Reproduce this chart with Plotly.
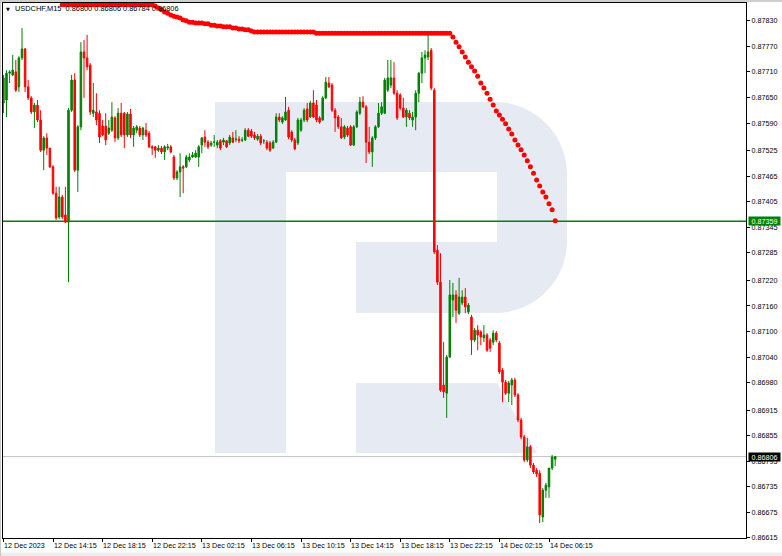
import plotly.graph_objects as go
import pandas as pd

# ---------------- data ----------------
symbol = "USDCHF,M15"
bar_times = pd.date_range("2023-12-12 10:15", periods=179, freq="15min")

opens = [
    0.87637, 0.87644, 0.87707, 0.87703, 0.87710, 0.87675, 0.87743, 0.87764, 0.87675, 0.87649,
    0.87616, 0.87632, 0.87597, 0.87526, 0.87555, 0.87531, 0.87487, 0.87425, 0.87369, 0.87416,
    0.87374, 0.87357, 0.87620, 0.87691, 0.87479, 0.87581, 0.87757, 0.87743, 0.87726, 0.87613,
    0.87616, 0.87613, 0.87583, 0.87583, 0.87566, 0.87573, 0.87602, 0.87555, 0.87613, 0.87613,
    0.87562, 0.87611, 0.87562, 0.87573, 0.87578, 0.87562, 0.87573, 0.87566, 0.87534, 0.87534,
    0.87526, 0.87531, 0.87522, 0.87531, 0.87534, 0.87510, 0.87461, 0.87475, 0.87487, 0.87487,
    0.87503, 0.87510, 0.87510, 0.87510, 0.87538, 0.87557, 0.87545, 0.87538, 0.87545, 0.87538,
    0.87548, 0.87545, 0.87548, 0.87543, 0.87555, 0.87552, 0.87552, 0.87550, 0.87550, 0.87573,
    0.87571, 0.87562, 0.87552, 0.87559, 0.87548, 0.87545, 0.87543, 0.87531, 0.87545, 0.87604,
    0.87592, 0.87597, 0.87620, 0.87569, 0.87550, 0.87543, 0.87573, 0.87597, 0.87623, 0.87604,
    0.87637, 0.87632, 0.87602, 0.87597, 0.87649, 0.87684, 0.87679, 0.87620, 0.87604, 0.87581,
    0.87557, 0.87578, 0.87581, 0.87538, 0.87581, 0.87613, 0.87639, 0.87628, 0.87545, 0.87522,
    0.87555, 0.87581, 0.87613, 0.87613, 0.87667, 0.87679, 0.87696, 0.87660, 0.87656, 0.87625,
    0.87604, 0.87613, 0.87597, 0.87604, 0.87660, 0.87707, 0.87743, 0.87745, 0.87761, 0.87667,
    0.87291, 0.87216, 0.86974, 0.86955, 0.87040, 0.87174, 0.87186, 0.87143, 0.87167, 0.87181,
    0.87146, 0.87134, 0.87080, 0.87103, 0.87099, 0.87085, 0.87092, 0.87080, 0.87075, 0.87096,
    0.87073, 0.87009, 0.86981, 0.86955, 0.86974, 0.86986, 0.86951, 0.86892, 0.86852, 0.86798,
    0.86829, 0.86786, 0.86774, 0.86767, 0.86664, 0.86727, 0.86735, 0.86779, 0.86800,
]
highs = [
    0.87703, 0.87714, 0.87714, 0.87750, 0.87738, 0.87747, 0.87813, 0.87766, 0.87691, 0.87653,
    0.87637, 0.87644, 0.87620, 0.87559, 0.87566, 0.87531, 0.87491, 0.87440, 0.87440, 0.87421,
    0.87440, 0.87625, 0.87703, 0.87707, 0.87585, 0.87780, 0.87785, 0.87797, 0.87731, 0.87684,
    0.87660, 0.87620, 0.87597, 0.87613, 0.87597, 0.87639, 0.87606, 0.87625, 0.87637, 0.87616,
    0.87616, 0.87623, 0.87583, 0.87585, 0.87583, 0.87581, 0.87590, 0.87571, 0.87538, 0.87536,
    0.87538, 0.87536, 0.87538, 0.87541, 0.87538, 0.87515, 0.87479, 0.87519, 0.87491, 0.87515,
    0.87519, 0.87522, 0.87526, 0.87538, 0.87557, 0.87573, 0.87550, 0.87548, 0.87562, 0.87550,
    0.87552, 0.87555, 0.87550, 0.87562, 0.87569, 0.87573, 0.87559, 0.87557, 0.87578, 0.87578,
    0.87576, 0.87569, 0.87564, 0.87564, 0.87552, 0.87550, 0.87548, 0.87550, 0.87613, 0.87613,
    0.87606, 0.87651, 0.87628, 0.87573, 0.87555, 0.87602, 0.87602, 0.87625, 0.87637, 0.87642,
    0.87667, 0.87644, 0.87606, 0.87653, 0.87698, 0.87698, 0.87684, 0.87625, 0.87609, 0.87602,
    0.87585, 0.87583, 0.87585, 0.87585, 0.87620, 0.87651, 0.87653, 0.87632, 0.87581, 0.87559,
    0.87585, 0.87637, 0.87639, 0.87696, 0.87738, 0.87738, 0.87733, 0.87667, 0.87660, 0.87649,
    0.87625, 0.87620, 0.87616, 0.87667, 0.87710, 0.87757, 0.87761, 0.87797, 0.87766, 0.87672,
    0.87303, 0.87284, 0.87075, 0.87045, 0.87221, 0.87214, 0.87197, 0.87226, 0.87197, 0.87202,
    0.87167, 0.87139, 0.87108, 0.87115, 0.87103, 0.87115, 0.87096, 0.87085, 0.87103, 0.87101,
    0.87078, 0.87014, 0.86986, 0.86984, 0.86991, 0.86991, 0.86955, 0.86897, 0.86857, 0.86850,
    0.86833, 0.86791, 0.86779, 0.86774, 0.86732, 0.86744, 0.86779, 0.86810, 0.86806,
]
lows = [
    0.87613, 0.87604, 0.87684, 0.87700, 0.87663, 0.87663, 0.87738, 0.87663, 0.87644, 0.87611,
    0.87578, 0.87592, 0.87522, 0.87479, 0.87515, 0.87484, 0.87421, 0.87362, 0.87364, 0.87364,
    0.87355, 0.87216, 0.87616, 0.87475, 0.87428, 0.87573, 0.87649, 0.87714, 0.87609, 0.87604,
    0.87585, 0.87543, 0.87559, 0.87538, 0.87562, 0.87569, 0.87545, 0.87550, 0.87557, 0.87531,
    0.87557, 0.87555, 0.87534, 0.87566, 0.87557, 0.87550, 0.87557, 0.87531, 0.87515, 0.87508,
    0.87522, 0.87517, 0.87503, 0.87526, 0.87519, 0.87456, 0.87456, 0.87416, 0.87425, 0.87484,
    0.87498, 0.87508, 0.87508, 0.87487, 0.87519, 0.87534, 0.87529, 0.87534, 0.87534, 0.87531,
    0.87526, 0.87538, 0.87531, 0.87538, 0.87543, 0.87545, 0.87543, 0.87545, 0.87548, 0.87557,
    0.87555, 0.87550, 0.87548, 0.87538, 0.87541, 0.87526, 0.87522, 0.87529, 0.87543, 0.87592,
    0.87588, 0.87595, 0.87552, 0.87545, 0.87526, 0.87538, 0.87569, 0.87592, 0.87592, 0.87602,
    0.87602, 0.87592, 0.87588, 0.87595, 0.87646, 0.87672, 0.87616, 0.87569, 0.87576, 0.87552,
    0.87552, 0.87557, 0.87536, 0.87536, 0.87578, 0.87609, 0.87625, 0.87496, 0.87517, 0.87487,
    0.87550, 0.87578, 0.87609, 0.87611, 0.87663, 0.87672, 0.87656, 0.87597, 0.87620, 0.87602,
    0.87581, 0.87597, 0.87581, 0.87573, 0.87639, 0.87684, 0.87707, 0.87738, 0.87667, 0.87282,
    0.87209, 0.86958, 0.86944, 0.86897, 0.87038, 0.87134, 0.87120, 0.87139, 0.87162, 0.87143,
    0.87141, 0.87045, 0.87075, 0.87056, 0.87068, 0.87075, 0.87052, 0.87052, 0.87068, 0.87075,
    0.87000, 0.86934, 0.86951, 0.86934, 0.86927, 0.86946, 0.86887, 0.86847, 0.86793, 0.86793,
    0.86779, 0.86765, 0.86758, 0.86650, 0.86652, 0.86709, 0.86709, 0.86774, 0.86784,
]
closes = [
    0.87696, 0.87707, 0.87710, 0.87714, 0.87667, 0.87743, 0.87764, 0.87675, 0.87649, 0.87616,
    0.87632, 0.87597, 0.87526, 0.87555, 0.87531, 0.87487, 0.87425, 0.87367, 0.87416, 0.87369,
    0.87357, 0.87620, 0.87691, 0.87479, 0.87581, 0.87757, 0.87743, 0.87722, 0.87616, 0.87620,
    0.87597, 0.87557, 0.87562, 0.87550, 0.87578, 0.87604, 0.87555, 0.87613, 0.87562, 0.87562,
    0.87611, 0.87562, 0.87578, 0.87581, 0.87562, 0.87578, 0.87562, 0.87534, 0.87531, 0.87526,
    0.87531, 0.87522, 0.87534, 0.87534, 0.87522, 0.87461, 0.87475, 0.87487, 0.87484, 0.87510,
    0.87510, 0.87515, 0.87519, 0.87534, 0.87555, 0.87545, 0.87534, 0.87543, 0.87545, 0.87545,
    0.87531, 0.87550, 0.87534, 0.87557, 0.87545, 0.87552, 0.87548, 0.87550, 0.87573, 0.87559,
    0.87559, 0.87555, 0.87559, 0.87543, 0.87548, 0.87531, 0.87526, 0.87545, 0.87604, 0.87597,
    0.87602, 0.87616, 0.87557, 0.87550, 0.87529, 0.87597, 0.87597, 0.87620, 0.87597, 0.87637,
    0.87604, 0.87597, 0.87592, 0.87649, 0.87686, 0.87675, 0.87620, 0.87602, 0.87581, 0.87555,
    0.87581, 0.87562, 0.87538, 0.87581, 0.87616, 0.87639, 0.87628, 0.87545, 0.87522, 0.87555,
    0.87581, 0.87613, 0.87628, 0.87691, 0.87696, 0.87696, 0.87660, 0.87602, 0.87625, 0.87604,
    0.87620, 0.87602, 0.87604, 0.87660, 0.87707, 0.87743, 0.87750, 0.87757, 0.87672, 0.87287,
    0.87216, 0.86962, 0.86958, 0.87040, 0.87186, 0.87186, 0.87150, 0.87181, 0.87181, 0.87158,
    0.87162, 0.87080, 0.87103, 0.87092, 0.87087, 0.87092, 0.87056, 0.87061, 0.87096, 0.87080,
    0.87005, 0.86981, 0.86955, 0.86979, 0.86986, 0.86951, 0.86892, 0.86852, 0.86798, 0.86829,
    0.86786, 0.86770, 0.86765, 0.86669, 0.86727, 0.86739, 0.86779, 0.86805, 0.86806,
]

# trailing-stop style indicator (dots), starting at bar 19
sar_first_bar = 19
sar_values = [
    0.87868, 0.87868, 0.87868, 0.87868, 0.87868, 0.87868, 0.87868, 0.87868, 0.87868, 0.87868,
    0.87868, 0.87868, 0.87868, 0.87868, 0.87868, 0.87868, 0.87868, 0.87868, 0.87868, 0.87868,
    0.87868, 0.87868, 0.87868, 0.87868, 0.87868, 0.87868, 0.87868, 0.87868, 0.87868, 0.87868,
    0.87865, 0.87860, 0.87856, 0.87851, 0.87848, 0.87844, 0.87841, 0.87839, 0.87837, 0.87832,
    0.87830, 0.87827, 0.87827, 0.87825, 0.87825, 0.87825, 0.87823, 0.87823, 0.87820, 0.87820,
    0.87818, 0.87818, 0.87816, 0.87816, 0.87816, 0.87813, 0.87813, 0.87811, 0.87811, 0.87809,
    0.87809, 0.87806, 0.87804, 0.87804, 0.87804, 0.87804, 0.87804, 0.87804, 0.87804, 0.87804,
    0.87804, 0.87804, 0.87804, 0.87804, 0.87804, 0.87804, 0.87804, 0.87804, 0.87804, 0.87804,
    0.87804, 0.87804, 0.87801, 0.87801, 0.87801, 0.87801, 0.87801, 0.87801, 0.87801, 0.87801,
    0.87801, 0.87801, 0.87801, 0.87801, 0.87801, 0.87801, 0.87801, 0.87801, 0.87801, 0.87801,
    0.87801, 0.87801, 0.87801, 0.87801, 0.87801, 0.87801, 0.87801, 0.87801, 0.87801, 0.87801,
    0.87801, 0.87801, 0.87801, 0.87801, 0.87801, 0.87801, 0.87801, 0.87801, 0.87801, 0.87801,
    0.87801, 0.87801, 0.87801, 0.87801, 0.87801, 0.87801,
    0.87792, 0.87780, 0.87769, 0.87757, 0.87745, 0.87733, 0.87722, 0.87712, 0.87700, 0.87684,
    0.87672, 0.87660, 0.87646, 0.87632, 0.87618, 0.87609, 0.87599, 0.87588, 0.87576, 0.87564,
    0.87550, 0.87538, 0.87527, 0.87515, 0.87501, 0.87487, 0.87472, 0.87456, 0.87442, 0.87428,
    0.87416, 0.87400, 0.87386, 0.87360,
]

level_price = 0.87359      # green horizontal level
bid_price = closes[-1]     # current price line

price_ticks = [0.87830, 0.87770, 0.87710, 0.87650, 0.87590, 0.87525, 0.87465, 0.87405,
               0.87345, 0.87285, 0.87220, 0.87160, 0.87100, 0.87040, 0.86980, 0.86915,
               0.86855, 0.86795, 0.86735, 0.86675, 0.86615]
price_range = [0.866147, 0.878720]

time_ticks = ["2023-12-12 10:15", "2023-12-12 14:15", "2023-12-12 18:15", "2023-12-12 22:15",
              "2023-12-13 02:15", "2023-12-13 06:15", "2023-12-13 10:15", "2023-12-13 14:15",
              "2023-12-13 18:15", "2023-12-13 22:15", "2023-12-14 02:15", "2023-12-14 06:15"]
time_labels = ["12 Dec 2023", "12 Dec 14:15", "12 Dec 18:15", "12 Dec 22:15",
               "13 Dec 02:15", "13 Dec 06:15", "13 Dec 10:15", "13 Dec 14:15",
               "13 Dec 18:15", "13 Dec 22:15", "14 Dec 02:15", "14 Dec 06:15"]
time_range = ["2023-12-12 10:13:03", "2023-12-14 22:08:15"]

# ---------------- layout constants ----------------
W, H = 782, 556
ML, MR, MT, MB = 3, 36, 3, 18
PW, PH = W - ML - MR, H - MT - MB
FONT = "Liberation Sans, Arial, sans-serif"
FS = 7.2
GREEN = "#008000"
RED = "#ff0000"


def pp(px, py):
    """pixel -> paper coordinates (for decorative watermark)"""
    return f"{(px - ML) / PW:.5f},{(MT + PH - py) / PH:.5f}"


k = 0.5523
r = 72
logo_main = (
    f"M {pp(215,102)} L {pp(567-r,102)} "
    f"C {pp(567-r+k*r,102)} {pp(567,102+r-k*r)} {pp(567,102+r)} "
    f"L {pp(567,313-r)} "
    f"C {pp(567,313-r+k*r)} {pp(567-r+k*r,313)} {pp(567-r,313)} "
    f"L {pp(356,313)} L {pp(356,242)} L {pp(497,242)} L {pp(497,172)} "
    f"L {pp(286,172)} L {pp(286,453)} L {pp(215,453)} Z"
)
logo_leg = f"M {pp(356,383)} L {pp(497,383)} L {pp(537,453)} L {pp(356,453)} Z"

fig = go.Figure()

fig.add_trace(go.Candlestick(
    x=bar_times, open=opens, high=highs, low=lows, close=closes,
    increasing=dict(line=dict(color=GREEN, width=1), fillcolor=GREEN),
    decreasing=dict(line=dict(color=RED, width=1), fillcolor=RED),
    whiskerwidth=0, showlegend=False, hoverinfo="skip",
))

fig.add_trace(go.Scatter(
    x=bar_times[sar_first_bar:], y=sar_values, mode="markers",
    marker=dict(color=RED, size=5, line=dict(width=0)),
    showlegend=False, hoverinfo="skip", cliponaxis=True,
))

shapes = [
    dict(type="path", path=logo_main, xref="paper", yref="paper",
         fillcolor="#e6ebf3", line=dict(width=0), layer="below"),
    dict(type="path", path=logo_leg, xref="paper", yref="paper",
         fillcolor="#e6ebf3", line=dict(width=0), layer="below"),
    dict(type="line", xref="paper", yref="y", x0=0, x1=1, y0=bid_price, y1=bid_price,
         line=dict(color="#c0c0c0", width=1), layer="below"),
    dict(type="line", xref="paper", yref="y", x0=0, x1=1, y0=level_price, y1=level_price,
         line=dict(color=GREEN, width=1.6), layer="below"),
]

annotations = []
# x-axis labels, left aligned at their ticks
for t, lab in zip(time_ticks, time_labels):
    annotations.append(dict(x=t, xref="x", y=0, yref="paper", text=lab, showarrow=False,
                            xanchor="left", yanchor="middle", xshift=-1.5, yshift=-7.8,
                            font=dict(family=FONT, size=FS, color="#000000")))

# header
annotations.append(dict(x=0, xref="paper", y=1, yref="paper", text="▼", showarrow=False,
                        xanchor="left", yanchor="middle", xshift=0.5, yshift=-5.5,
                        font=dict(family="DejaVu Sans", size=5, color="#000000")))
header = f"{symbol}\u00a0\u00a0{opens[-1]:.5f} {highs[-1]:.5f} {lows[-1]:.5f} {closes[-1]:.5f}"
annotations.append(dict(x=0, xref="paper", y=1, yref="paper", text=header, showarrow=False,
                        xanchor="left", yanchor="middle", xshift=10, yshift=-5.3,
                        font=dict(family=FONT, size=7.4, color="#000000")))

# price label boxes
for val, col in [(level_price, GREEN), (bid_price, "#000000")]:
    annotations.append(dict(x=1, xref="paper", y=val, yref="y", text=f"{val:.5f}",
                            showarrow=False, xanchor="left", yanchor="middle", xshift=1.5,
                            bgcolor=col, borderpad=0, width=31, height=8, align="center",
                            font=dict(family=FONT, size=FS, color="#ffffff")))

# window frame strips
shapes += [
    dict(type="rect", xref="paper", yref="paper", x0=-ML / PW, x1=(W - ML) / PW,
         y0=(PH + MT - 2) / PH, y1=(PH + MT) / PH, fillcolor="#cfcfcf", line=dict(width=0)),
    dict(type="rect", xref="paper", yref="paper", x0=-ML / PW, x1=(W - ML) / PW,
         y0=-(MB) / PH, y1=-(MB - 3.5) / PH, fillcolor="#ededed", line=dict(width=0)),
    dict(type="rect", xref="paper", yref="paper", x0=-ML / PW, x1=-(ML - 1) / PW,
         y0=-(MB) / PH, y1=(PH + MT) / PH, fillcolor="#c8c8c8", line=dict(width=0)),
]

fig.update_layout(
    width=W, height=H,
    margin=dict(l=ML, r=MR, t=MT, b=MB, pad=0),
    paper_bgcolor="#ffffff", plot_bgcolor="#ffffff",
    shapes=shapes, annotations=annotations,
    showlegend=False,
    font=dict(family=FONT, size=FS, color="#000000"),
    xaxis=dict(type="date", range=time_range, rangeslider=dict(visible=False),
               tickvals=time_ticks, showticklabels=False, ticks="outside", ticklen=3,
               tickcolor="#000000", tickwidth=1, showgrid=False, zeroline=False,
               showline=True, linecolor="#000000", linewidth=1, mirror=True),
    yaxis=dict(side="right", range=price_range, tickvals=price_ticks,
               ticktext=[f"{v:.5f}" for v in price_ticks], ticks="outside", ticklen=3,
               tickcolor="#000000", tickwidth=1, showgrid=False, zeroline=False,
               showline=True, linecolor="#000000", linewidth=1, mirror=True,
               tickfont=dict(family=FONT, size=FS, color="#000000")),
)

fig.write_html("out.html",
               config={"displayModeBar": False},
               post_script="document.body.style.margin='0';document.body.style.overflow='hidden';")
